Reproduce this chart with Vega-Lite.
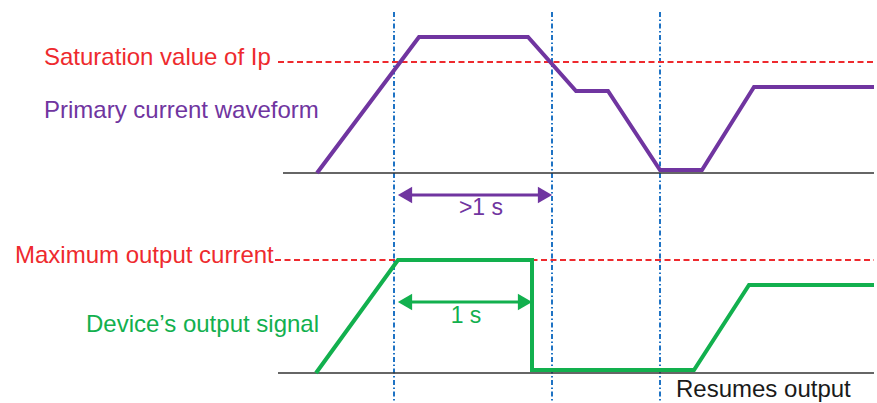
{
  "$schema": "https://vega.github.io/schema/vega-lite/v6.json",
  "width": 877,
  "height": 403,
  "autosize": "none",
  "padding": 0,
  "background": "white",
  "config": {"view": {"stroke": null}},
  "datasets": {
    "markers": [
      {"t": 394, "top": 12, "bottom": 403},
      {"t": 552, "top": 12, "bottom": 403},
      {"t": 660, "top": 12, "bottom": 403}
    ],
    "limits": [
      {"x1": 278, "x2": 874, "y": 62},
      {"x1": 275, "x2": 874, "y": 260}
    ],
    "baselines": [
      {"x1": 283, "x2": 874, "y": 173},
      {"x1": 278, "x2": 874, "y": 373}
    ],
    "waves": [
      {"kind": "primary", "i": 0, "t": 317, "v": 173},
      {"kind": "primary", "i": 1, "t": 419, "v": 37},
      {"kind": "primary", "i": 2, "t": 528, "v": 37},
      {"kind": "primary", "i": 3, "t": 576, "v": 91},
      {"kind": "primary", "i": 4, "t": 608, "v": 91},
      {"kind": "primary", "i": 5, "t": 660, "v": 170},
      {"kind": "primary", "i": 6, "t": 702, "v": 170},
      {"kind": "primary", "i": 7, "t": 754, "v": 87},
      {"kind": "primary", "i": 8, "t": 874, "v": 87},
      {"kind": "output", "i": 0, "t": 316, "v": 373},
      {"kind": "output", "i": 1, "t": 398, "v": 260},
      {"kind": "output", "i": 2, "t": 532, "v": 260},
      {"kind": "output", "i": 3, "t": 532, "v": 370},
      {"kind": "output", "i": 4, "t": 694, "v": 370},
      {"kind": "output", "i": 5, "t": 749, "v": 285},
      {"kind": "output", "i": 6, "t": 874, "v": 285}
    ],
    "spans": [
      {"kind": "primary", "x1": 402, "x2": 547, "y": 195},
      {"kind": "output", "x1": 402, "x2": 527, "y": 302}
    ],
    "heads": [
      {"kind": "primary", "x": 405, "y": 195, "dir": "triangle-left"},
      {"kind": "primary", "x": 545, "y": 195, "dir": "triangle-right"},
      {"kind": "output", "x": 405, "y": 302, "dir": "triangle-left"},
      {"kind": "output", "x": 525, "y": 302, "dir": "triangle-right"}
    ],
    "labels": [
      {"text": "Saturation value of Ip", "x": 44, "y": 65, "kind": "limit"},
      {"text": "Primary current waveform", "x": 44, "y": 118, "kind": "primary"},
      {"text": "Maximum output current", "x": 15, "y": 263, "kind": "limit"},
      {"text": "Device’s output signal", "x": 86, "y": 332, "kind": "output"},
      {"text": "Resumes output", "x": 676, "y": 397, "kind": "note"}
    ],
    "spanlabels": [
      {"text": ">1 s", "x": 481, "y": 215, "kind": "primary"},
      {"text": "1 s", "x": 466, "y": 323, "kind": "output"}
    ]
  },
  "layer": [
    {
      "data": {"name": "markers"},
      "mark": {"type": "rule", "color": "#1f73c4", "strokeWidth": 2, "strokeDash": [5, 2.5, 1.5, 2.5]},
      "encoding": {
        "x": {"field": "t", "type": "quantitative", "scale": {"domain": [0, 877], "nice": false, "zero": false}, "axis": null},
        "y": {"field": "top", "type": "quantitative", "scale": {"domain": [0, 403], "nice": false, "zero": false, "reverse": true}, "axis": null},
        "y2": {"field": "bottom"}
      }
    },
    {
      "data": {"name": "limits"},
      "mark": {"type": "rule", "color": "#ee2a2e", "strokeWidth": 2.2, "strokeDash": [6, 3.5]},
      "encoding": {
        "x": {"field": "x1", "type": "quantitative", "axis": null},
        "x2": {"field": "x2"},
        "y": {"field": "y", "type": "quantitative", "axis": null}
      }
    },
    {
      "data": {"name": "baselines"},
      "mark": {"type": "rule", "color": "#333333", "strokeWidth": 1.5},
      "encoding": {
        "x": {"field": "x1", "type": "quantitative", "axis": null},
        "x2": {"field": "x2"},
        "y": {"field": "y", "type": "quantitative", "axis": null}
      }
    },
    {
      "data": {"name": "waves"},
      "mark": {"type": "line", "strokeWidth": 4, "strokeJoin": "miter"},
      "encoding": {
        "x": {"field": "t", "type": "quantitative", "axis": null},
        "y": {"field": "v", "type": "quantitative", "axis": null},
        "order": {"field": "i", "type": "quantitative"},
        "detail": {"field": "kind"},
        "color": {"field": "kind", "type": "nominal", "scale": {"domain": ["limit", "primary", "output", "note"], "range": ["#ee2a2e", "#7035a0", "#12b04e", "#1a1a1a"]}, "legend": null}
      }
    },
    {
      "data": {"name": "spans"},
      "mark": {"type": "rule", "strokeWidth": 3},
      "encoding": {
        "x": {"field": "x1", "type": "quantitative", "axis": null},
        "x2": {"field": "x2"},
        "y": {"field": "y", "type": "quantitative", "axis": null},
        "color": {"field": "kind", "type": "nominal", "legend": null}
      }
    },
    {
      "data": {"name": "heads"},
      "mark": {"type": "point", "filled": true, "opacity": 1, "size": 270},
      "encoding": {
        "x": {"field": "x", "type": "quantitative", "axis": null},
        "y": {"field": "y", "type": "quantitative", "axis": null},
        "shape": {"field": "dir", "type": "nominal", "scale": {"domain": ["triangle-left", "triangle-right"], "range": ["triangle-left", "triangle-right"]}, "legend": null},
        "color": {"field": "kind", "type": "nominal", "legend": null}
      }
    },
    {
      "data": {"name": "labels"},
      "mark": {"type": "text", "font": "Liberation Sans", "fontSize": 24, "align": "left", "baseline": "alphabetic"},
      "encoding": {
        "x": {"field": "x", "type": "quantitative", "axis": null},
        "y": {"field": "y", "type": "quantitative", "axis": null},
        "text": {"field": "text"},
        "color": {"field": "kind", "type": "nominal", "legend": null}
      }
    },
    {
      "data": {"name": "spanlabels"},
      "mark": {"type": "text", "font": "Liberation Sans", "fontSize": 23, "align": "center", "baseline": "alphabetic"},
      "encoding": {
        "x": {"field": "x", "type": "quantitative", "axis": null},
        "y": {"field": "y", "type": "quantitative", "axis": null},
        "text": {"field": "text"},
        "color": {"field": "kind", "type": "nominal", "legend": null}
      }
    }
  ]
}
